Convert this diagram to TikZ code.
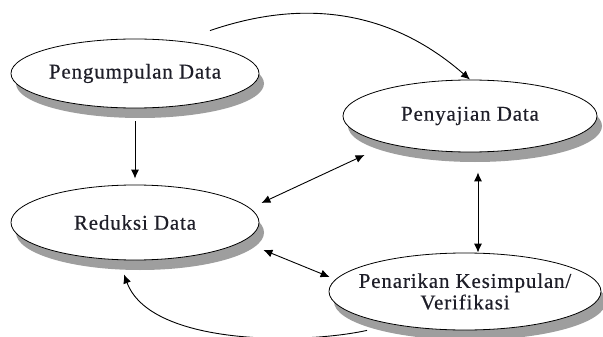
\documentclass[tikz,border=0pt]{standalone}
\usepackage{fontspec}
\setmainfont[LetterSpace=4,FakeBold=0.4]{Liberation Serif}
\usetikzlibrary{shapes.geometric,shadows,arrows.meta}
\definecolor{shadowgray}{RGB}{158,158,158}
\definecolor{textdark}{RGB}{30,30,40}
\tikzset{
  stage/.style={ellipse, draw=black, line width=0.8pt, fill=white, inner xsep=-45pt, inner ysep=0pt,
    align=center, text=textdark, font=\fontsize{21}{21.5}\selectfont,
    general shadow={fill=shadowgray, shadow xshift=5pt, shadow yshift=-10pt}},
  arr/.style={line width=0.9pt, -{Latex[length=9pt,width=8pt]}},
  dbl/.style={line width=0.9pt, {Latex[length=9pt,width=8pt]}-{Latex[length=9pt,width=8pt]}}
}
\begin{document}
\begin{tikzpicture}[x=1pt,y=-1pt]
\useasboundingbox (0,0) rectangle (603,337);
\node[stage, minimum width=248pt, minimum height=69pt] (peng) at (135,73.5) {Pengumpulan Data};
\node[stage, minimum width=254pt, minimum height=72pt] (saji) at (470,116) {Penyajian Data};
\node[stage, minimum width=248pt, minimum height=75pt] (red) at (135,222.5) {Reduksi Data};
\node[stage, minimum width=272pt, minimum height=77pt] (tarik) at (465,291.5) {Penarikan Kesimpulan/\\Verifikasi};
% connectors
\draw[arr, shorten <=13pt, shorten >=6pt] (peng.south) -- (red.north);
\draw[arr] ([shift={(75,-8)}]peng.north) .. controls (270,10) and (370,-8) .. (saji.north);
\draw[dbl] ([shift={(2,-19.5)}]red.east) -- ([shift={(22,39)}]saji.west);
\draw[dbl] ([shift={(4,27.5)}]red.east) -- ([shift={(1,-14.5)}]tarik.west);
\draw[dbl, shorten <=20pt] ([xshift=8pt]saji.south) -- ([xshift=13pt]tarik.north);
\draw[arr] ([shift={(-98,0)}]tarik.south) .. controls (300,345) and (150,345) .. ([shift={(-11,14)}]red.south);
\end{tikzpicture}
\end{document}
